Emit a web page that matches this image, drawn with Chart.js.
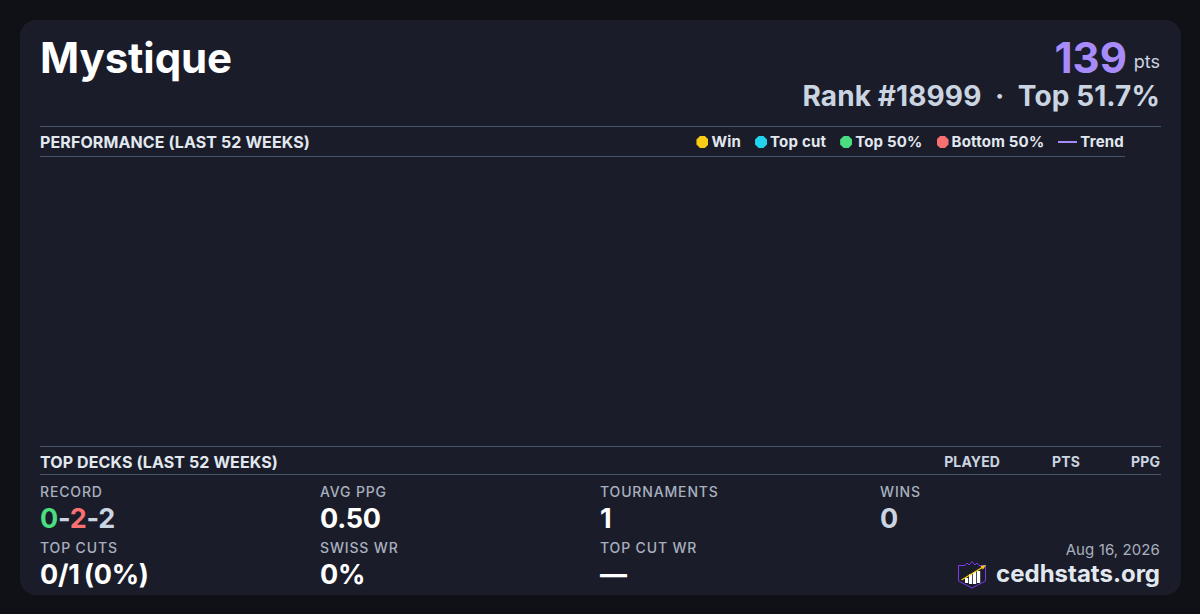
<!DOCTYPE html>
<html>
<head>
<meta charset="utf-8">
<title>Mystique</title>
<script src="https://cdn.jsdelivr.net/npm/chart.js@4"></script>
<style>
  html, body { margin: 0; padding: 0; background: #101116; }
  body { width: 1200px; height: 614px; overflow: hidden; position: relative; font-family: Inter, sans-serif; font-optical-sizing: none; }
  #card { position: absolute; left: 20px; top: 20px; width: 1161px; height: 575px; background: #1a1d29; border-radius: 16px; }
  .t { position: absolute; white-space: nowrap; line-height: 1; }
  .r { text-align: right; }
  .rule { position: absolute; height: 1px; background: #475569; }
  .label { font-size: 14px; font-weight: 500; letter-spacing: 0.85px; color: #a8b0bf; }
  .value { font-size: 27px; font-weight: 650; letter-spacing: -0.25px; color: #fff; }
  .head { font-size: 16px; font-weight: 650; letter-spacing: 0.1px; color: #e2e8f0; }
  .col { font-size: 14px; font-weight: 650; letter-spacing: 0.1px; color: #cbd5e1; }
  #chart_box { position: absolute; left: 40px; top: 157px; width: 1085px; height: 289px; }
  #legend { position: absolute; right: 76px; top: 133px; height: 18px; display: flex; align-items: center; gap: 14px; font-size: 15px; letter-spacing: 0.2px; font-weight: 650; color: #e2e8f0; }
  #legend .item { display: flex; align-items: center; gap: 3px; }
  #legend .item span:last-child { position: relative; top: -1px; }
  #legend .dot { width: 12px; height: 12px; clip-path: polygon(30% 0, 70% 0, 100% 30%, 100% 70%, 70% 100%, 30% 100%, 0 70%, 0 30%); }
  #legend .bar { width: 19px; height: 2px; }
</style>
</head>
<body>
<div id="card"></div>

<div class="t" style="left:40px;top:37px;font-size:42px;font-weight:700;letter-spacing:-0.1px;color:#fff;">Mystique</div>
<div class="t" style="right:73px;top:37px;font-size:42px;font-weight:700;color:#a78bfa;">139</div>
<div class="t" style="right:40px;top:53px;font-size:18px;color:#cbd5e1;">pts</div>
<div class="t" style="right:40px;top:82px;font-size:28px;font-weight:650;letter-spacing:0.1px;color:#cbd5e1;">Rank #18999 &nbsp;·&nbsp; Top 51.7%</div>

<div class="rule" style="left:40px;top:126px;width:1121px;"></div>
<div class="t head" style="left:40px;top:134px;">PERFORMANCE (LAST 52 WEEKS)</div>
<div id="legend"></div>
<div class="rule" style="left:40px;top:156px;width:1085px;"></div>

<div id="chart_box"><canvas id="perf_chart"></canvas></div>

<div class="rule" style="left:40px;top:446px;width:1121px;"></div>
<div class="t head" style="left:40px;top:454px;">TOP DECKS (LAST 52 WEEKS)</div>
<div class="t col r" style="right:200px;top:455px;">PLAYED</div>
<div class="t col r" style="right:120px;top:455px;">PTS</div>
<div class="t col r" style="right:40px;top:455px;">PPG</div>
<div class="rule" style="left:40px;top:474px;width:1121px;"></div>

<div class="t label" style="left:40px;top:485px;">RECORD</div>
<div class="t value" style="left:40px;top:505px;"><span style="color:#4ade80">0</span><span style="color:#cbd5e1">-</span><span style="color:#f87171">2</span><span style="color:#cbd5e1">-2</span></div>
<div class="t label" style="left:320px;top:485px;">AVG PPG</div>
<div class="t value" style="left:320px;top:505px;">0.50</div>
<div class="t label" style="left:600px;top:485px;">TOURNAMENTS</div>
<div class="t value" style="left:600px;top:505px;">1</div>
<div class="t label" style="left:880px;top:485px;">WINS</div>
<div class="t value" style="left:880px;top:505px;color:#cbd5e1;">0</div>

<div class="t label" style="left:40px;top:541px;">TOP CUTS</div>
<div class="t value" style="left:40px;top:561px;">0/1<span style="margin-left:-2px"> </span>(0%)</div>
<div class="t label" style="left:320px;top:541px;">SWISS WR</div>
<div class="t value" style="left:320px;top:561px;">0%</div>
<div class="t label" style="left:600px;top:541px;">TOP CUT WR</div>
<div class="t value" style="left:600px;top:561px;">—</div>

<div class="t r" style="right:40px;top:542px;font-size:15px;letter-spacing:0.1px;color:#a8b0bf;">Aug 16, 2026</div>
<div class="t r" style="right:40px;top:562px;font-size:24px;font-weight:700;color:#e2e8f0;">cedhstats.org</div>
<svg style="position:absolute;left:957px;top:560px;" width="30" height="30" viewBox="0 0 30 30">
  <path d="M1.5 5.5 L8 5.5 L10 3 L12 5 L15 1.5 L18 5 L20 3 L22 5.5 L28.5 5.5 L28.5 21 L15 28 L1.5 21 Z" fill="none" stroke="#7c3aed" stroke-width="1"/>
  <rect x="8" y="18" width="3.2" height="5" fill="#fff"/>
  <rect x="12" y="14" width="3.2" height="10" fill="#fff"/>
  <rect x="16" y="12" width="3.2" height="12" fill="#fff"/>
  <rect x="20" y="11" width="3.2" height="12" fill="#fff"/>
  <path d="M4.5 20 L26 7" stroke="#facc15" stroke-width="1.3"/>
  <path d="M29 5 L23.5 6 L26 9.5 Z" fill="#facc15"/>
</svg>

<script>
// nothing was played in the window, the plot of the reference is empty
const weeks = [];
const win_points = [];
const top_cut_points = [];
const top_50_points = [];
const bottom_50_points = [];
const trend_points = [];

const legend_labels = ['Win', 'Top cut', 'Top 50%', 'Bottom 50%', 'Trend'];
const legend_colors = ['#facc15', '#22d3ee', '#4ade80', '#f87171', '#a78bfa'];

const perf_chart = new Chart(document.getElementById('perf_chart'), {
  data: {
    labels: weeks,
    datasets: [
      { type: 'scatter', label: legend_labels[0], data: win_points, backgroundColor: legend_colors[0] },
      { type: 'scatter', label: legend_labels[1], data: top_cut_points, backgroundColor: legend_colors[1] },
      { type: 'scatter', label: legend_labels[2], data: top_50_points, backgroundColor: legend_colors[2] },
      { type: 'scatter', label: legend_labels[3], data: bottom_50_points, backgroundColor: legend_colors[3] },
      { type: 'line', label: legend_labels[4], data: trend_points, borderColor: legend_colors[4], backgroundColor: legend_colors[4], borderWidth: 2, pointRadius: 0 },
    ]
  },
  options: {
    responsive: true,
    maintainAspectRatio: false,
    animation: false,
    plugins: { legend: { display: false }, tooltip: { enabled: false } },
    scales: {
      x: { display: false },
      y: { display: false }
    }
  }
});

// html legend, from the chart's own datasets
const legend_el = document.getElementById('legend');
perf_chart.data.datasets.forEach(function (ds) {
  const item = document.createElement('div');
  item.className = 'item';
  const swatch = document.createElement('span');
  swatch.className = ds.type === 'line' ? 'bar' : 'dot';
  swatch.style.background = ds.backgroundColor;
  const text = document.createElement('span');
  text.textContent = ds.label;
  item.appendChild(swatch);
  item.appendChild(text);
  legend_el.appendChild(item);
});
</script>
</body>
</html>
